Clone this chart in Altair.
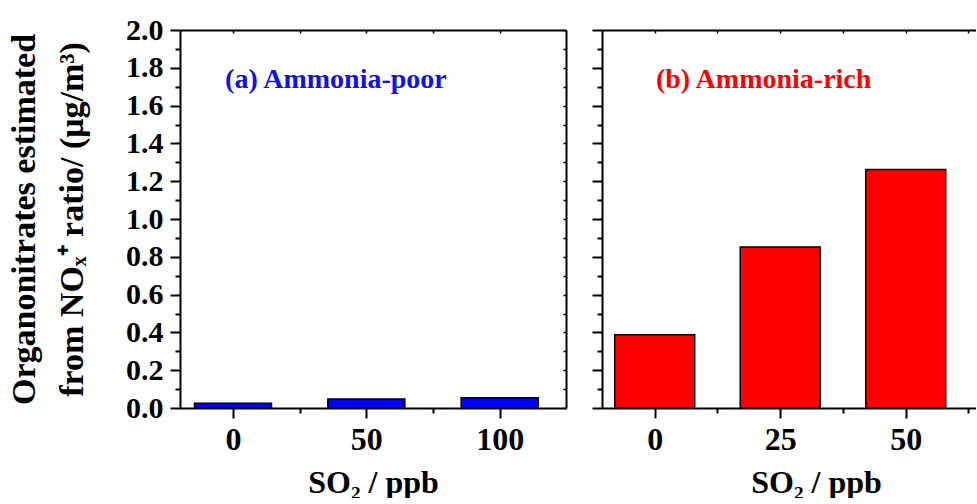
import altair as alt
import pandas as pd

# ---- data ----
so2_poor = [0, 50, 100]
org_poor = [0.025, 0.047, 0.054]
so2_rich = [0, 25, 50]
org_rich = [0.388, 0.852, 1.262]

y_ticks = [0.0, 0.1, 0.2, 0.3, 0.4, 0.5, 0.6, 0.7, 0.8, 0.9, 1.0,
           1.1, 1.2, 1.3, 1.4, 1.5, 1.6, 1.7, 1.8, 1.9, 2.0]
x_ticks_poor = [0, 25, 50, 75, 100]
x_ticks_rich = [0, 12.5, 25, 37.5, 50, 62.5]

label_poor = "(a) Ammonia-poor"
label_rich = "(b) Ammonia-rich"
x_title = "SO₂ / ppb"
y_title = ["Organonitrates estimated", "from NOₓ⁺ ratio/ (μg/m³)"]

FONT = "Liberation Serif"
H = 378


def panel(xs, ys, color, xdom, width, xticks, major_step, bar_size,
          label, label_color, label_x, label_y, first, title_x=None):
    df = pd.DataFrame({"so2": xs, "org": ys})
    xscale = alt.Scale(domain=xdom, nice=False, zero=False)
    yscale = alt.Scale(domain=[0, 2], nice=False)
    minor_x = f"abs(datum.value / {major_step} - round(datum.value / {major_step})) > 0.01"
    minor_y = "round(datum.value * 10) % 2 == 1"

    xkw = dict(
        values=xticks, labelExpr=f"({minor_x}) ? '' : datum.label",
        tickSize=10, tickWidth=2, tickColor="black",
        tickDash={"condition": {"test": minor_x, "value": [5, 40]}, "value": [40, 1]},
        domainWidth=2, domainColor="black", labelPadding=6, labelFontSize=32,
        title=x_title, titleFontSize=32, titlePadding=12, grid=False,
        labelFont=FONT, titleFont=FONT, labelFontWeight="bold", titleFontWeight="bold",
        labelColor="black", titleColor="black",
    )
    if title_x is not None:
        xkw["titleX"] = title_x
    x_axis = alt.Axis(**xkw)

    ykw = dict(
        values=y_ticks, tickSize=10, tickWidth=2, tickColor="black",
        tickDash={"condition": {"test": minor_y, "value": [5, 40]}, "value": [40, 1]},
        domainWidth=2, domainColor="black", grid=False,
    )
    if first:
        ykw.update(
            labelExpr=f"({minor_y}) ? '' : format(datum.value, '.1f')",
            labelPadding=7, labelFontSize=30, labelFont=FONT, labelFontWeight="bold",
            labelColor="black",
            title=y_title, titleFontSize=34, titleLineHeight=48, titlePadding=36,
            titleFont=FONT, titleFontWeight="bold", titleColor="black",
        )
    else:
        ykw.update(labels=False, title=None)
    y_axis = alt.Axis(**ykw)

    bars = alt.Chart(df).mark_bar(
        size=bar_size, color=color, stroke="black", strokeWidth=1.5
    ).encode(
        x=alt.X("so2:Q", scale=xscale, axis=x_axis),
        y=alt.Y("org:Q", scale=yscale, axis=y_axis),
    )

    # mirror border lines (top / right)
    border = alt.Chart(df).mark_point(opacity=0).encode(
        x=alt.X("so2:Q", scale=xscale, axis=alt.Axis(
            orient="top", ticks=False, labels=False, domain=True, domainWidth=2,
            domainColor="black", title=None, grid=False)),
        y=alt.Y("org:Q", scale=yscale, axis=(alt.Axis(
            orient="right", ticks=False, labels=False, domain=True, domainWidth=2,
            domainColor="black", title=None, grid=False) if first else None)),
    )
    # small inward ticks on mirror sides
    inner = alt.Chart(df).mark_point(opacity=0).encode(
        x=alt.X("so2:Q", scale=xscale, axis=alt.Axis(
            orient="top", values=xticks, offset=-3, tickSize=3, tickWidth=1.5,
            tickColor="black", labels=False, domain=False, title=None, grid=False)),
        y=alt.Y("org:Q", scale=yscale, axis=(alt.Axis(
            orient="right", values=y_ticks, offset=-3, tickSize=3, tickWidth=1.5,
            tickColor="black", labels=False, domain=False, title=None, grid=False)
            if first else None)),
    )
    ann_df = pd.DataFrame({"t": [label], "ax": [label_x], "ay": [label_y]})
    ann = alt.Chart(ann_df).mark_text(
        font=FONT, fontSize=28, fontWeight="bold", color=label_color
    ).encode(
        x=alt.X("ax:Q", scale=xscale, axis=None),
        y=alt.Y("ay:Q", scale=yscale, axis=None),
        text="t:N",
    )
    return alt.layer(bars, border, inner, ann).resolve_axis(
        x="independent", y="independent"
    ).properties(width=width, height=H)


left = panel(so2_poor, org_poor, "#0000FF", [-18, 123], 386, x_ticks_poor, 50, 77,
             label_poor, "#1010EE", 38.6, 1.735, True)
right = panel(so2_rich, org_rich, "#FF0000", [-9.5, 63], 374, x_ticks_rich, 25, 80,
              label_rich, "#FF0000", 21.7, 1.735, False, title_x=214)

chart = alt.hconcat(left, right, spacing=24).properties(
    padding={"left": 7, "top": 15, "right": 0, "bottom": 0},
    background="white",
).configure_view(stroke=None)

chart.save("out.html", embed_options={"renderer": "svg", "actions": False})
